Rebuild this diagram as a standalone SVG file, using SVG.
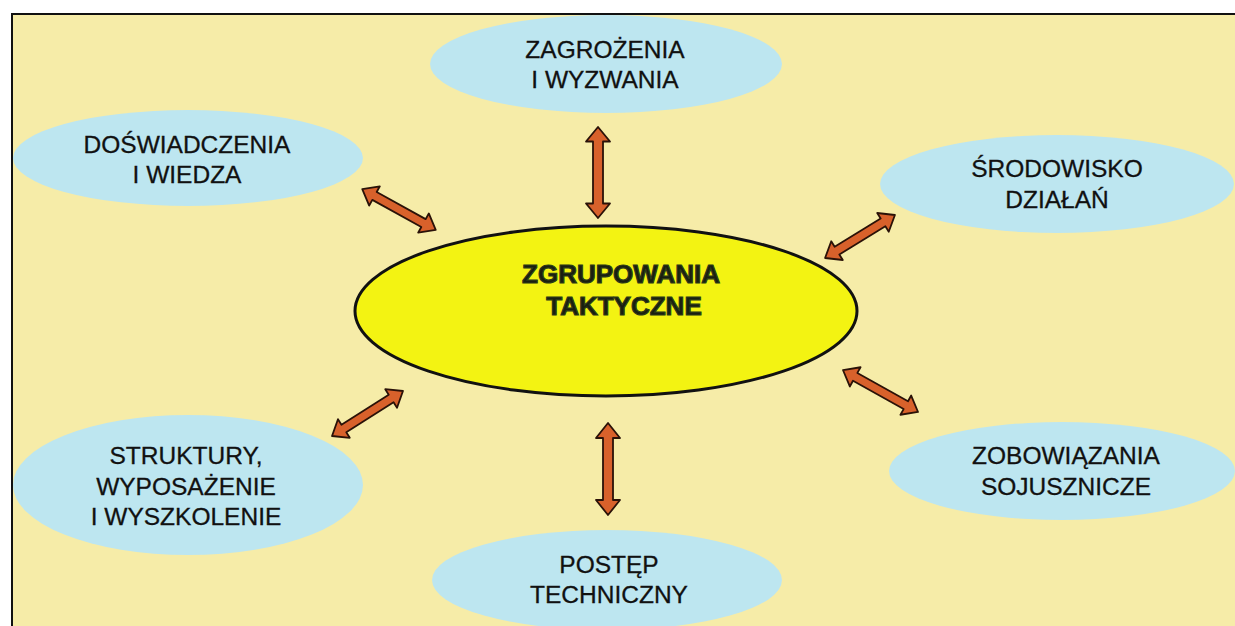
<svg xmlns="http://www.w3.org/2000/svg" width="1235" height="626" viewBox="0 0 1235 626">
<style>
.bg{fill:#f6eca8}
.frame{fill:none;stroke:#111;stroke-width:2}
.oval{fill:#bde6f0}
.lbl{font-family:"Liberation Sans",Arial,sans-serif;font-size:24.5px;fill:#111;stroke:#111;stroke-width:0.3;text-anchor:middle}
.core{fill:#f3f312;stroke:#111;stroke-width:3}
.corelbl{font-family:"Liberation Sans",Arial,sans-serif;font-size:26px;font-weight:bold;fill:#1a1f10;stroke:#2c3a18;stroke-width:1.2;text-anchor:middle}
.arr{fill:#d8612b;stroke:#2a1208;stroke-width:1.8;stroke-linejoin:round}
</style>
<rect width="1235" height="626" fill="#ffffff"/>
<rect class="bg" x="12" y="14" width="1223" height="612"/>
<path class="frame" d="M12,626 L12,14 L1235,14"/>

<g id="connectors">
  <polygon id="a-top" class="arr" transform="translate(598,172.5) rotate(90)" points="-45.5,0 -31,-12 -31,-5 31,-5 31,-12 45.5,0 31,12 31,5 -31,5 -31,12"/>
  <polygon id="a-bottom" class="arr" transform="translate(608,469) rotate(90)" points="-46,0 -31,-12 -31,-5 31,-5 31,-12 46,0 31,12 31,5 -31,5 -31,12"/>
  <polygon id="a-ul" class="arr" transform="translate(399,209.5) rotate(29)" points="-42,0 -28,-11 -28,-4.5 28,-4.5 28,-11 42,0 28,11 28,4.5 -28,4.5 -28,11"/>
  <polygon id="a-ur" class="arr" transform="translate(860,236.5) rotate(-31.6)" points="-41,0 -27,-11 -27,-4.5 27,-4.5 27,-11 41,0 27,11 27,4.5 -27,4.5 -27,11"/>
  <polygon id="a-ll" class="arr" transform="translate(367.5,413.5) rotate(-32.4)" points="-42,0 -28,-11 -28,-4.5 28,-4.5 28,-11 42,0 28,11 28,4.5 -28,4.5 -28,11"/>
  <polygon id="a-lr" class="arr" transform="translate(880.5,391) rotate(29.2)" points="-43,0 -29,-11 -29,-4.5 29,-4.5 29,-11 43,0 29,11 29,4.5 -29,4.5 -29,11"/>
</g>

<g id="n-center">
  <ellipse class="core" cx="606" cy="311" rx="251" ry="85"/>
  <text class="corelbl" x="621" y="283">ZGRUPOWANIA</text>
  <text class="corelbl" x="624" y="315">TAKTYCZNE</text>
</g>

<g id="n-zagrozenia">
  <ellipse class="oval" cx="606" cy="64" rx="176" ry="49"/>
  <text class="lbl" x="605" y="58">ZAGROŻENIA</text>
  <text class="lbl" x="605" y="88">I WYZWANIA</text>
</g>

<g id="n-doswiadczenia">
  <ellipse class="oval" cx="188" cy="158" rx="175" ry="48"/>
  <text class="lbl" x="187" y="153">DOŚWIADCZENIA</text>
  <text class="lbl" x="187" y="183">I WIEDZA</text>
</g>

<g id="n-srodowisko">
  <ellipse class="oval" cx="1057" cy="184" rx="177" ry="49"/>
  <text class="lbl" x="1057" y="177">ŚRODOWISKO</text>
  <text class="lbl" x="1057" y="208">DZIAŁAŃ</text>
</g>

<g id="n-struktury">
  <ellipse class="oval" cx="188" cy="485" rx="175" ry="70"/>
  <text class="lbl" x="186" y="464">STRUKTURY,</text>
  <text class="lbl" x="186" y="495">WYPOSAŻENIE</text>
  <text class="lbl" x="186" y="525">I WYSZKOLENIE</text>
</g>

<g id="n-zobowiazania">
  <ellipse class="oval" cx="1062" cy="471" rx="173" ry="49"/>
  <text class="lbl" x="1066" y="464">ZOBOWIĄZANIA</text>
  <text class="lbl" x="1066" y="495">SOJUSZNICZE</text>
</g>

<g id="n-postep">
  <ellipse class="oval" cx="607" cy="580" rx="175" ry="50"/>
  <text class="lbl" x="609" y="573">POSTĘP</text>
  <text class="lbl" x="609" y="603">TECHNICZNY</text>
</g>
</svg>
